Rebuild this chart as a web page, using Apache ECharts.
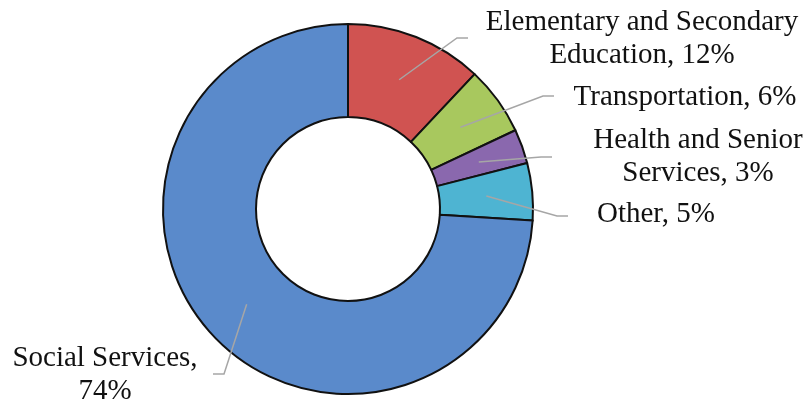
<!DOCTYPE html>
<html>
<head>
<meta charset="utf-8">
<script src="https://cdn.jsdelivr.net/npm/echarts@6/dist/echarts.min.js"></script>
<style>
  html, body { margin: 0; padding: 0; background: #fff; }
  #main { width: 812px; height: 406px; }
</style>
</head>
<body>
<div id="main"></div>
<script>
// data
var categories = ['Elementary and Secondary\nEducation', 'Transportation', 'Health and Senior\nServices', 'Other', 'Social Services'];
var values = [12, 6, 3, 5, 74];
var separators = [', ', ', ', ', ', ', ', ',\n'];
var colors = ['#d05351', '#a8c85e', '#8a68ae', '#4eb4d2', '#5a8acb'];

// layout
var cx = 348, cy = 209;
var innerR = 92, outerR = 185, lineR = 139;
var labelCenter = [[642, 39], [685, 97], [698, 157], [656, 214], [105, 375]];
var lineEnd = [[468, 38], [554, 96], [552, 157], [568, 216], [213, 374]];

var total = values.reduce(function (a, b) { return a + b; }, 0);

var chart = echarts.init(document.getElementById('main'));

var ringData = [], labelData = [];
for (var i = 0; i < values.length; i++) {
    ringData.push({ name: categories[i], value: values[i], itemStyle: { color: colors[i] } });
    labelData.push({ name: categories[i], value: values[i] });
}

chart.setOption({
    backgroundColor: '#fff',
    animation: false,
    series: [{
        // the ring itself
        type: 'pie',
        z: 2,
        center: [cx, cy],
        radius: [innerR, outerR],
        startAngle: 90,
        clockwise: true,
        silent: true,
        data: ringData,
        itemStyle: { borderColor: '#111', borderWidth: 2 },
        label: { show: false },
        labelLine: { show: false }
    }, {
        // transparent copy on top that carries the labels and leader lines
        type: 'pie',
        z: 5,
        center: [cx, cy],
        radius: [innerR, outerR],
        startAngle: 90,
        clockwise: true,
        silent: true,
        avoidLabelOverlap: false,
        data: labelData,
        itemStyle: { color: 'rgba(0,0,0,0)', borderWidth: 0 },
        label: {
            show: true,
            position: 'outside',
            fontFamily: 'Liberation Serif',
            fontSize: 29,
            lineHeight: 33,
            color: '#111',
            formatter: function (p) {
                return p.name + separators[p.dataIndex] + p.value + '%';
            }
        },
        labelLine: {
            show: true,
            lineStyle: { color: '#a6a6a6', width: 1.5 }
        },
        labelLayout: function (p) {
            var i = p.dataIndex;
            var before = 0;
            for (var j = 0; j < i; j++) before += values[j];
            var mid = (before + values[i] / 2) / total * Math.PI * 2;
            var start = [cx + lineR * Math.sin(mid), cy - lineR * Math.cos(mid)];
            var end = lineEnd[i];
            var right = end[0] > cx;
            var elbow = [end[0] + (right ? -11 : 11), end[1]];
            return {
                x: labelCenter[i][0],
                y: labelCenter[i][1],
                align: 'center',
                verticalAlign: 'middle',
                labelLinePoints: [start, elbow, end]
            };
        }
    }]
});
</script>
</body>
</html>
